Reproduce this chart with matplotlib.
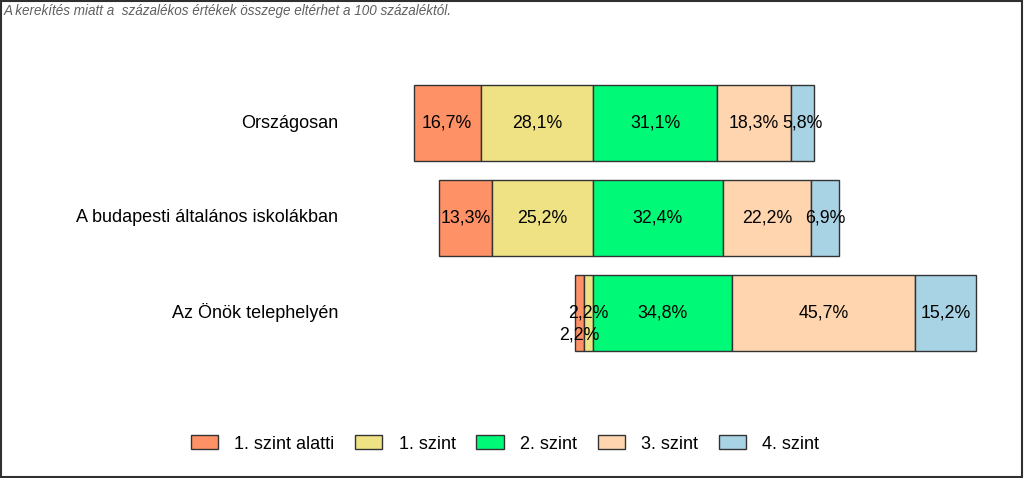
import numpy as np
import matplotlib.pyplot as plt
from matplotlib.patches import Rectangle

plt.rcParams['font.family'] = ['Liberation Sans', 'DejaVu Sans']

categories = ['Országosan', 'A budapesti általános iskolákban', 'Az Önök telephelyén']
levels = ['1. szint alatti', '1. szint', '2. szint', '3. szint', '4. szint']
below1 = [16.7, 13.3, 2.2]
lvl1 = [28.1, 25.2, 2.2]
lvl2 = [31.1, 32.4, 34.8]
lvl3 = [18.3, 22.2, 45.7]
lvl4 = [5.8, 6.9, 15.2]
colors = ['#FF9166', '#EEE285', '#00FA78', '#FFD5B0', '#A8D3E4']
note = 'A kerekítés miatt a  százalékos értékek összege eltérhet a 100 százaléktól.'

data = np.array([below1, lvl1, lvl2, lvl3, lvl4])

fig = plt.figure(figsize=(10.24, 4.78), dpi=100)
# axes spans the whole width; 4 px per percent, zero at x=593 px
ax = fig.add_axes([0, 1 - 360.5/478, 1, 285/478])
ax.set_xlim(-593/4, (1024-593)/4)
ax.set_ylim(2.5, -0.5)
ax.axis('off')

y = np.arange(len(categories))
# diverging: levels below 2 go left of zero
left = -(data[0] + data[1])
for k in range(len(levels)):
    ax.barh(y, data[k], left=left, height=0.8, color=colors[k],
            edgecolor='#333333', linewidth=1, label=levels[k])
    for i in range(len(categories)):
        v = data[k, i]
        cx = left[i] + v/2
        cy = y[i]
        if k == 0 and v < 3:
            cy += 0.23
        ax.text(cx, cy, f'{v:.1f}'.replace('.', ',') + '%', ha='center', va='center',
                fontsize=12.8, color='black')
    left = left + data[k]

for i, c in enumerate(categories):
    ax.text((338-593)/4, y[i], c, ha='right', va='center', fontsize=13)

fig.legend(loc='center', bbox_to_anchor=(505/1024, 1-444/478), ncol=5, frameon=False,
           fontsize=13, handlelength=1.5, handleheight=0.8, handletextpad=0.9,
           columnspacing=1.15)

fig.text(4/1024, 1-11/478, note, ha='left', va='center', fontsize=9.75,
         style='italic', color='#606060')

fig.patches.append(Rectangle((0.001, 0.002), 0.997, 0.995, transform=fig.transFigure,
                             fill=False, edgecolor='#303030', linewidth=1.5))

fig.savefig('out.png', dpi=100)
